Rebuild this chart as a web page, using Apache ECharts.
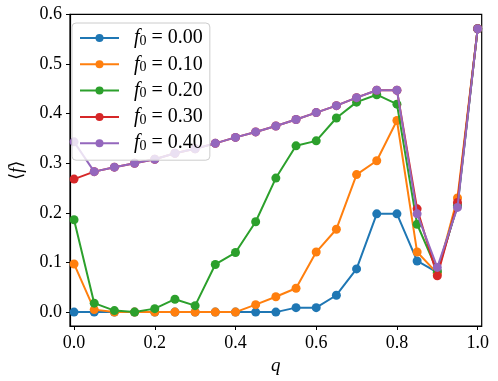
<!DOCTYPE html>
<html>
<head>
<meta charset="utf-8">
<script src="https://cdn.jsdelivr.net/npm/echarts@6/dist/echarts.min.js"></script>
<style>
html,body{margin:0;padding:0;background:#fff;}
#c{width:498px;height:381px;}
</style>
</head>
<body>
<div id="c"></div>
<script>
const qValues = [0.00,0.05,0.10,0.15,0.20,0.25,0.30,0.35,0.40,0.45,0.50,0.55,0.60,0.65,0.70,0.75,0.80,0.85,0.90,0.95,1.00];
const f000 = [0,0,0,0,0,0,0,0,0,0,0,0.009,0.009,0.034,0.087,0.198,0.198,0.103,0.080,0.215,0.571];
const f010 = [0.097,0.005,0,0,0,0,0,0,0,0.015,0.031,0.048,0.121,0.167,0.277,0.305,0.386,0.121,0.078,0.230,0.571];
const f020 = [0.186,0.018,0.003,0,0.007,0.026,0.013,0.096,0.120,0.182,0.270,0.335,0.345,0.391,0.423,0.438,0.419,0.177,0.083,0.215,0.571];
const f030 = [0.268,0.283,0.292,0.300,0.308,0.320,0.329,0.340,0.352,0.363,0.375,0.388,0.402,0.416,0.432,0.447,0.447,0.208,0.073,0.221,0.571];
const f040 = [0.343,0.283,0.292,0.300,0.308,0.320,0.329,0.340,0.352,0.363,0.375,0.388,0.402,0.416,0.432,0.447,0.447,0.198,0.090,0.211,0.571];
const seriesNames = ['0.00','0.10','0.20','0.30','0.40'];
const seriesValues = [f000,f010,f020,f030,f040];
const colors = ['#1f77b4','#ff7f0e','#2ca02c','#d62728','#9467bd'];
const xTicks = [0,0.2,0.4,0.6,0.8,1.0];
const yTicks = [0,0.1,0.2,0.3,0.4,0.5,0.6];

const FONT = '"Liberation Serif", "DejaVu Serif", serif';
const chart = echarts.init(document.getElementById('c'), null, {renderer:'canvas'});
const series = seriesValues.map((vals,i)=>({
  name: seriesNames[i],
  type: 'line',
  data: qValues.map((q,j)=>[q, vals[j]]),
  symbol: 'circle',
  symbolSize: 9,
  showSymbol: true,
  lineStyle: {width: 2, color: colors[i]},
  itemStyle: {color: colors[i]},
  animation: false,
  z: 2 + i
}));

chart.setOption({
  backgroundColor: '#fff',
  animation: false,
  grid: {left: 63.3, top: 14.3, width: 418.4, height: 311.7, show: true, borderColor: '#000', borderWidth: 1.2, containLabel: false},
  legend: {
    z: 20,
    orient: 'vertical',
    left: 72, top: 23,
    padding: [5, 7, 7, 7],
    itemWidth: 39, itemHeight: 10,
    itemGap: 6.3,
    backgroundColor: 'rgba(255,255,255,0.8)',
    borderColor: '#cccccc', borderWidth: 1, borderRadius: 4,
    data: seriesNames,
    formatter: n => '{i|f}{s|0}{t| = ' + n + '}',
    textStyle: {
      fontFamily: FONT, fontSize: 20, color: '#000', padding: [0,0,0,10],
      rich: {
        i: {fontFamily: FONT, fontSize: 20, fontStyle: 'italic', color:'#000'},
        s: {fontFamily: FONT, fontSize: 14, color:'#000', verticalAlign: 'bottom', padding:[6,0,0,0]},
        t: {fontFamily: FONT, fontSize: 20, color:'#000'}
      }
    }
  },
  xAxis: {
    type: 'value', min: -0.01, max: 1.01,
    name: 'q', nameLocation: 'middle', nameGap: 27,
    nameTextStyle: {fontFamily: FONT, fontSize: 19, fontStyle: 'italic', color: '#000'},
    axisLine: {show: true, onZero: false, lineStyle: {color:'#000', width: 1.2}},
    axisTick: {show: true, inside: false, length: 4, lineStyle:{color:'#000', width:1}, customValues: xTicks},
    axisLabel: {show: true, margin: 8, fontFamily: FONT, fontSize: 18, color: '#000', customValues: xTicks, formatter: v => v.toFixed(1)},
    splitLine: {show: false}
  },
  yAxis: {
    type: 'value', min: -0.028, max: 0.6,
    name: '{a|⟨}{i|f}{a|⟩}', nameLocation: 'middle', nameGap: 44, nameRotate: 90,
    nameTextStyle: {fontFamily: FONT, fontSize: 18, color:'#000', rich: {a:{fontFamily: FONT, fontSize:18, color:'#000'}, i:{fontFamily: FONT, fontSize:18, fontStyle:'italic', color:'#000'}}},
    axisLine: {show: true, onZero: false, lineStyle: {color:'#000', width: 1.2}},
    axisTick: {show: true, inside: false, length: 4, lineStyle:{color:'#000', width:1}, customValues: yTicks},
    axisLabel: {show: true, margin: 8, fontFamily: FONT, fontSize: 18, color: '#000', customValues: yTicks, formatter: v => v.toFixed(1)},
    splitLine: {show: false}
  },
  series: series
});
</script>
</body>
</html>
